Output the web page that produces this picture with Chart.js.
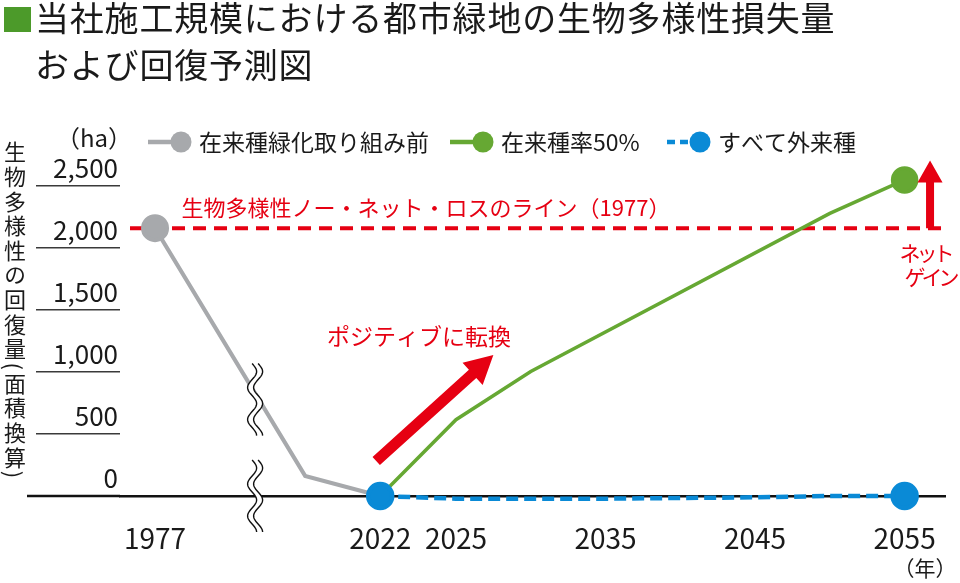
<!DOCTYPE html>
<html lang="ja">
<head>
<meta charset="utf-8">
<title>生物多様性損失量および回復予測図</title>
<script src="https://cdn.jsdelivr.net/npm/chart.js@4.4.1/dist/chart.umd.min.js"></script>
<style>
  html, body { margin: 0; padding: 0; background: #fff; }
  #wrap { position: relative; width: 960px; height: 583px; overflow: hidden;
          font-family: "Noto Sans CJK JP", sans-serif; color: #1a1a1a; }
  #chart { position: absolute; left: 0; top: 0; }
  #mark { position: absolute; left: 4px; top: 7px; width: 27px; height: 25px; background: #4c9a2a; }
  #title { position: absolute; left: 35px; top: -7px; margin: 0; font-size: 34px; font-weight: normal;
           line-height: 47px; letter-spacing: 0.8px; white-space: nowrap; }
  #ytitle { position: absolute; left: 0; top: 141px; width: 30px; writing-mode: vertical-rl;
            font-size: 22px; line-height: 30px; letter-spacing: 2.6px; white-space: nowrap; }
</style>
</head>
<body>
<div id="wrap">
  <canvas id="chart" width="960" height="583"></canvas>
  <div id="mark"></div>
  <h1 id="title">当社施工規模における都市緑地の生物多様性損失量<br>および回復予測図</h1>
  <div id="ytitle">生物多様性の回復量(面積換算)</div>
</div>
<script>
// series (年, ha)
var grayYears = [1977, 2007, 2022];
var grayValues = [2000, 150, 0];
var greenYears = [2022, 2025, 2030, 2050, 2055];
var greenValues = [0, 570, 930, 2110, 2360];
var blueYears = [2022, 2025, 2035, 2045, 2050, 2055];
var blueValues = [0, -20, -20, -10, 0, 0];

var seriesNames = ['在来種緑化取り組み前', '在来種率50%', 'すべて外来種'];

// no net loss line
var noNetLoss = 2000;
var noNetLossSpan = [1972, 2057.7];
var noNetLossLabel = '生物多様性ノー・ネット・ロスのライン（1977）';

// axes
var xTicks = [1977, 2022, 2025, 2035, 2045, 2055];
var yTicks = [0, 500, 1000, 1500, 2000, 2500];

// the year axis is broken: 1977-2022 squeezed, 2022-2025 stretched
var axisYears = [1970, 2022, 2025, 2058];
var axisUnits = [0, 261, 337, 832];

var FONT = '"Noto Sans CJK JP", sans-serif';
var RED = '#e60012';
var GRAY = '#a7a9ac';
var GREEN = '#66a833';
var BLUE = '#0a8ad6';
var INK = '#1a1a1a';

Chart.defaults.font.family = FONT;

class BrokenScale extends Chart.LinearScale {
  warp(v) {
    var i = 1;
    while (i < axisYears.length - 1 && v > axisYears[i]) i++;
    var t = (v - axisYears[i - 1]) / (axisYears[i] - axisYears[i - 1]);
    return axisUnits[i - 1] + t * (axisUnits[i] - axisUnits[i - 1]);
  }
  determineDataLimits() {
    this.min = this.warp(this.options.min);
    this.max = this.warp(this.options.max);
  }
  buildTicks() {
    return xTicks.map(function (v) { return { value: v }; });
  }
  getPixelForValue(v) {
    return super.getPixelForValue(this.warp(v));
  }
}
BrokenScale.id = 'broken';
BrokenScale.defaults = {};
Chart.register(BrokenScale);

function points(xs, ys) {
  return xs.map(function (x, i) { return { x: x, y: ys[i] }; });
}

function breakMark(ctx, cx, cy) {
  var h = 72, amp = 4.5, gap = 6, period = 32;
  function px(t, dx) { return cx + dx + amp * Math.sin(t / period * 2 * Math.PI); }
  ctx.beginPath();
  for (var t = 0; t <= h; t++) ctx.lineTo(px(t, -gap / 2), cy - h / 2 + t);
  for (var t2 = h; t2 >= 0; t2--) ctx.lineTo(px(t2, gap / 2), cy - h / 2 + t2);
  ctx.closePath();
  ctx.fillStyle = '#fff';
  ctx.fill();
  ctx.strokeStyle = '#111';
  ctx.lineWidth = 1.4;
  [-gap / 2, gap / 2].forEach(function (dx) {
    ctx.beginPath();
    for (var t = 0; t <= h; t++) ctx.lineTo(px(t, dx), cy - h / 2 + t);
    ctx.stroke();
  });
}

function arrow(ctx, x1, y1, x2, y2, shaft, headW, headL) {
  var len = Math.hypot(x2 - x1, y2 - y1);
  ctx.save();
  ctx.translate(x1, y1);
  ctx.rotate(Math.atan2(y2 - y1, x2 - x1));
  ctx.beginPath();
  ctx.moveTo(0, -shaft / 2);
  ctx.lineTo(len - headL, -shaft / 2);
  ctx.lineTo(len - headL, -headW / 2);
  ctx.lineTo(len, 0);
  ctx.lineTo(len - headL, headW / 2);
  ctx.lineTo(len - headL, shaft / 2);
  ctx.lineTo(0, shaft / 2);
  ctx.closePath();
  ctx.fillStyle = RED;
  ctx.fill();
  ctx.restore();
}

var decor = {
  id: 'decor',
  afterDatasetsDraw: function (chart) {
    var ctx = chart.ctx, area = chart.chartArea;
    var x = chart.scales.x, y = chart.scales.y;
    ctx.save();

    // baseline carries on under the tick labels
    ctx.strokeStyle = '#111';
    ctx.lineWidth = 2.5;
    ctx.beginPath();
    ctx.moveTo(27, area.bottom);
    ctx.lineTo(area.left, area.bottom);
    ctx.stroke();

    // breaks
    breakMark(ctx, x.getPixelForValue(1997), y.getPixelForValue(720));
    breakMark(ctx, x.getPixelForValue(1997), area.bottom);

    // arrows
    arrow(ctx, x.getPixelForValue(2021.2), y.getPixelForValue(261),
          x.getPixelForValue(2027.5), y.getPixelForValue(1052), 11, 30, 28);
    arrow(ctx, x.getPixelForValue(2056.7), y.getPixelForValue(noNetLoss),
          x.getPixelForValue(2056.7), y.getPixelForValue(2505), 8, 25, 22);

    // red notes
    ctx.fillStyle = RED;
    ctx.textAlign = 'center';
    ctx.textBaseline = 'middle';
    ctx.font = '22px ' + FONT;
    ctx.fillText(noNetLossLabel, area.left + 306, y.getPixelForValue(noNetLoss) - 21);
    ctx.font = '23px ' + FONT;
    ctx.fillText('ポジティブに転換', 419, 336);
    ctx.font = '21px ' + FONT;
    ctx.letterSpacing = '-4px';
    ctx.fillText('ネット', 925, 253);
    ctx.fillText('ゲイン', 930, 277);
    ctx.letterSpacing = '0px';

    // units
    ctx.fillStyle = INK;
    ctx.textAlign = 'left';
    ctx.font = '24px ' + FONT;
    ctx.fillText('（ha）', 56, 138);
    ctx.textAlign = 'center';
    ctx.font = '21px ' + FONT;
    ctx.fillText('（年）', 925, 568);

    // legend
    var starts = [148, 450, 667];
    ctx.font = '23px ' + FONT;
    ctx.textAlign = 'left';
    [0, 1, 2].forEach(function (i) {
      var ds = chart.data.datasets[i];
      var x0 = starts[i], cx = x0 + 33, cy = 142;
      ctx.strokeStyle = ds.borderColor;
      ctx.lineWidth = 4.5;
      ctx.setLineDash(ds.borderDash ? [8, 5] : []);
      ctx.beginPath();
      ctx.moveTo(x0, cy);
      ctx.lineTo(cx, cy);
      ctx.stroke();
      ctx.setLineDash([]);
      ctx.fillStyle = ds.borderColor;
      ctx.beginPath();
      ctx.arc(cx, cy, 10.5, 0, Math.PI * 2);
      ctx.fill();
      ctx.fillStyle = INK;
      ctx.fillText(ds.label, cx + 18, cy);
    });
    ctx.restore();
  }
};

new Chart(document.getElementById('chart'), {
  type: 'line',
  data: {
    datasets: [{
      label: seriesNames[0],
      data: points(grayYears, grayValues),
      borderColor: GRAY,
      backgroundColor: GRAY,
      borderWidth: 4,
      pointRadius: [12, 0, 0],
      order: 2
    }, {
      label: seriesNames[1],
      data: points(greenYears, greenValues),
      borderColor: GREEN,
      backgroundColor: GREEN,
      borderWidth: 3.5,
      pointRadius: [0, 0, 0, 0, 12],
      order: 1
    }, {
      label: seriesNames[2],
      data: points(blueYears, blueValues),
      borderColor: BLUE,
      backgroundColor: BLUE,
      borderWidth: 4.5,
      borderDash: [12, 6],
      pointRadius: [12, 0, 0, 0, 0, 12],
      order: 0
    }, {
      label: 'no net loss',
      data: noNetLossSpan.map(function (x) { return { x: x, y: noNetLoss }; }),
      borderColor: RED,
      borderWidth: 4,
      borderDash: [13, 8],
      pointRadius: 0,
      order: 3
    }]
  },
  options: {
    responsive: false,
    animation: false,
    events: [],
    clip: false,
    elements: {
      line: { tension: 0, fill: false },
      point: { borderWidth: 0, hoverRadius: 0 }
    },
    layout: { autoPadding: false, padding: { top: 121, left: 0, right: 15, bottom: 0 } },
    plugins: { legend: { display: false }, tooltip: { enabled: false } },
    scales: {
      x: {
        type: 'broken',
        min: 1970,
        max: 2057.7,
        position: 'bottom',
        afterFit: function (s) { s.height = 87; },
        grid: { display: false },
        border: { color: '#111', width: 2.5 },
        ticks: {
          autoSkip: false, maxRotation: 0, padding: 18, color: INK,
          font: { size: 28 },
          callback: function (v) { return String(v); }
        }
      },
      y: { type: 'linear', display: false, min: 0, max: 2800 },
      yt: {
        type: 'linear',
        position: 'left',
        min: 0,
        max: 3024,
        afterBuildTicks: function (s) { s.ticks = yTicks.map(function (v) { return { value: v }; }); },
        afterFit: function (s) { s.width = 120; },
        border: { display: false },
        grid: {
          drawOnChartArea: false,
          tickLength: 84,
          lineWidth: 1.5,
          color: function (c) { return c.tick && c.tick.value === 0 ? 'rgba(0,0,0,0)' : '#3a3a3a'; }
        },
        ticks: {
          padding: -82, labelOffset: -18, color: INK,
          font: { size: 26 },
          callback: function (v) { return v.toLocaleString('en-US'); }
        }
      }
    }
  },
  plugins: [decor]
});
</script>
</body>
</html>
